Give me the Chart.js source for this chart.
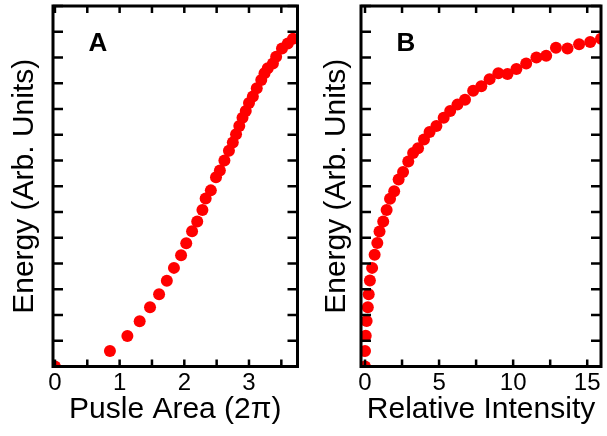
<!DOCTYPE html>
<html>
<head>
<meta charset="utf-8">
<script src="https://cdn.jsdelivr.net/npm/chart.js@4.4.1/dist/chart.umd.min.js"></script>
<style>
  body { margin: 0; background: #fff; }
  #wrap { position: relative; width: 607px; height: 436px; overflow: hidden; }
  canvas { position: absolute; top: 0; }
  #chartA { left: 0; }
  #chartB { left: 305px; }
</style>
</head>
<body>
<div id="wrap">
  <canvas id="chartA" width="305" height="436"></canvas>
  <canvas id="chartB" width="302" height="436"></canvas>
</div>
<script>
// Panel A: energy vs pulse area (units of 2π)
const pulseArea = [0, 0.85, 1.12, 1.31, 1.47, 1.61, 1.73, 1.84, 1.95, 2.03, 2.12, 2.20, 2.28, 2.33,
  2.41, 2.49, 2.55, 2.62, 2.69, 2.75, 2.80, 2.85, 2.90, 2.95, 3.00, 3.06, 3.12, 3.19, 3.24, 3.29,
  3.37, 3.42, 3.51, 3.60, 3.68];
const energyA = [0, 0.60, 1.18, 1.76, 2.30, 2.81, 3.33, 3.83, 4.32, 4.79, 5.25, 5.63, 6.08, 6.52,
  6.84, 7.35, 7.61, 8.00, 8.38, 8.70, 9.02, 9.34, 9.66, 9.92, 10.23, 10.49, 10.81, 11.13, 11.39, 11.58,
  11.77, 12.03, 12.35, 12.54, 12.73];

// Panel B: energy vs relative intensity
const relIntensity = [0, 0, 0.05, 0.11, 0.19, 0.25, 0.33, 0.48, 0.65, 0.83, 0.98, 1.23, 1.46, 1.69,
  1.97, 2.27, 2.57, 2.92, 3.25, 3.58, 3.98, 4.36, 4.82, 5.31, 5.75, 6.24, 6.75, 7.30, 7.85, 8.41,
  9.00, 9.62, 10.22, 10.88, 11.57, 12.23, 12.89, 13.67, 14.45, 15.20, 15.93];
const energyB = [0, 0.60, 1.19, 1.77, 2.30, 2.81, 3.34, 3.83, 4.34, 4.80, 5.24, 5.63, 6.08, 6.51,
  6.81, 7.26, 7.55, 7.96, 8.29, 8.48, 8.82, 9.11, 9.34, 9.66, 9.92, 10.17, 10.36, 10.71, 10.88, 11.16,
  11.39, 11.36, 11.55, 11.77, 12.00, 12.07, 12.38, 12.35, 12.51, 12.60, 12.73];

// labelled ticks on the x axes (the rest are minor, unlabelled)
const areaTickLabels = [0, 1, 2, 3];
const intensityTickLabels = [0, 5, 10, 15];

const FONT = '"Liberation Sans", Arial, Helvetica, sans-serif';

// box frame with inward ticks on all four sides, plus the panel letter
const frameTicks = {
  id: 'frameTicks',
  afterDraw(chart, args, opts) {
    const { ctx, chartArea: a, scales: { x, y } } = chart;
    ctx.save();
    ctx.strokeStyle = '#000';
    ctx.lineWidth = 2.5;
    ctx.beginPath();
    x.ticks.forEach(t => {
      const px = x.getPixelForValue(t.value);
      ctx.moveTo(px, a.bottom); ctx.lineTo(px, a.bottom - 7);
      ctx.moveTo(px, a.top); ctx.lineTo(px, a.top + 7);
    });
    y.ticks.forEach(t => {
      const py = y.getPixelForValue(t.value);
      ctx.moveTo(a.left, py); ctx.lineTo(a.left + 10, py);
      ctx.moveTo(a.right, py); ctx.lineTo(a.right - 10, py);
    });
    ctx.stroke();
    ctx.lineWidth = 3;
    ctx.strokeRect(a.left, a.top, a.right - a.left, a.bottom - a.top);
    ctx.fillStyle = '#000';
    ctx.font = 'bold 26px ' + FONT;
    ctx.textAlign = 'center';
    ctx.textBaseline = 'middle';
    ctx.fillText(opts.letter, a.left + 45, a.top + 38);
    ctx.restore();
  }
};

function makePanel(id, xs, ys, opt) {
  const points = xs.map((v, i) => ({ x: v, y: ys[i] }));
  return new Chart(document.getElementById(id), {
    type: 'scatter',
    data: {
      datasets: [{
        data: points,
        backgroundColor: '#ff0000',
        borderWidth: 0,
        pointRadius: 6,
        pointHoverRadius: 6
      }]
    },
    options: {
      responsive: false,
      animation: false,
      layout: { padding: { left: 0, top: 2, right: opt.padRight, bottom: 0 } },
      plugins: {
        legend: { display: false },
        tooltip: { enabled: false },
        frameTicks: { letter: opt.letter }
      },
      scales: {
        x: {
          type: 'linear',
          min: opt.xMin,
          max: opt.xMax,
          grid: { display: false, drawTicks: false },
          border: { display: false },
          afterFit: s => { s.height = 69.5; },
          ticks: {
            stepSize: opt.xStep,
            includeBounds: false,
            autoSkip: false,
            maxRotation: 0,
            padding: 2,
            color: '#000',
            font: { family: FONT, size: 24 },
            callback: v => opt.xLabels.includes(v) ? String(v) : ''
          },
          title: {
            display: true,
            text: opt.xTitle,
            color: '#000',
            font: { family: FONT, size: 30 },
            padding: { top: 0, bottom: 8 }
          }
        },
        y: {
          type: 'linear',
          min: 0,
          max: 14,
          grid: { display: false, drawTicks: false },
          border: { display: false },
          afterFit: s => { s.width = opt.yWidth; },
          ticks: { stepSize: 1, display: false },
          title: {
            display: true,
            text: 'Energy (Arb. Units)',
            color: '#000',
            font: { family: FONT, size: 30 },
            padding: { top: opt.yTitlePad, bottom: 0 }
          }
        }
      }
    },
    plugins: [frameTicks]
  });
}

makePanel('chartA', pulseArea, energyA, {
  letter: 'A', xMin: -0.03, xMax: 3.75, xStep: 0.5, xLabels: areaTickLabels,
  xTitle: 'Pusle Area (2π)', yWidth: 53, padRight: 7.5, yTitlePad: 6.5
});

makePanel('chartB', relIntensity, energyB, {
  letter: 'B', xMin: -0.27, xMax: 15.93, xStep: 2.5, xLabels: intensityTickLabels,
  xTitle: 'Relative Intensity', yWidth: 56, padRight: 2, yTitlePad: 13.7
});
</script>
</body>
</html>
